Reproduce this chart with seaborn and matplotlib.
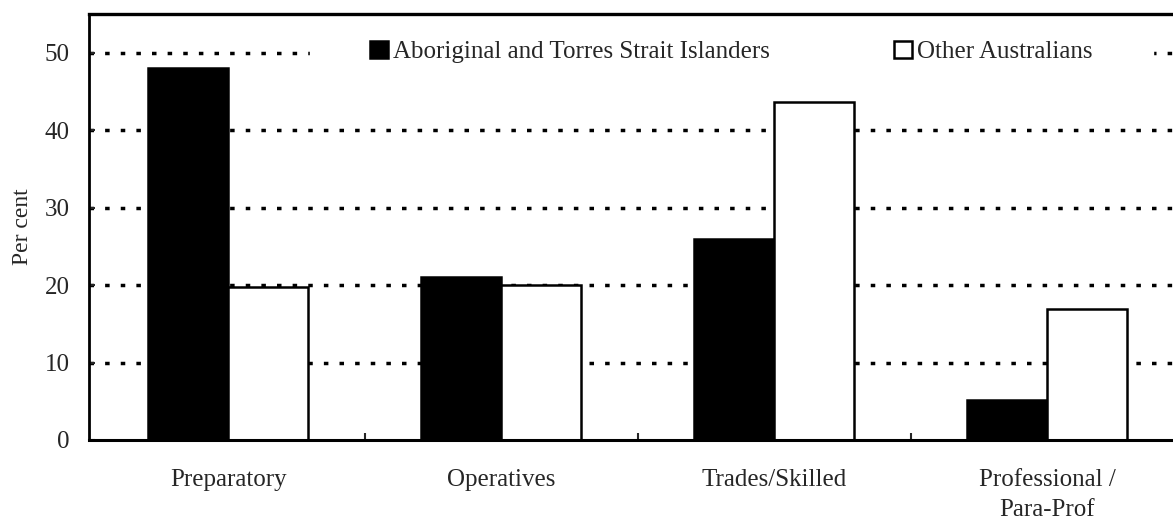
import pandas as pd
import seaborn as sns
import matplotlib.pyplot as plt


categories = ["Preparatory", "Operatives", "Trades/Skilled", "Professional /\nPara-Prof"]
groups = ["Aboriginal and Torres Strait Islanders", "Other Australians"]
aboriginal = [48.0, 21.0, 26.0, 5.2]
other = [19.7, 20.0, 43.7, 16.9]
yticks = [0, 10, 20, 30, 40, 50]

df = pd.DataFrame({
    "category": categories * 2,
    "group": [groups[0]] * 4 + [groups[1]] * 4,
    "value": aboriginal + other,
})

sns.set_style("white")
plt.rcParams["font.family"] = ["Liberation Serif", "DejaVu Serif"]

fig = plt.figure(figsize=(11.73, 5.22), dpi=100)
# axes runs past the right edge of the figure like the scanned original
ax = fig.add_axes([89 / 1173, 82 / 522, 1122 / 1173, 426 / 522])

sns.barplot(data=df, x="category", y="value", hue="group", hue_order=groups,
            palette=["black", "white"], width=0.585, edgecolor="black",
            linewidth=1.8, saturation=1, ax=ax, zorder=3)

ax.set_xlim(-0.51, 3.6)
ax.set_ylim(0, 55)
ax.set_yticks(yticks)
ax.yaxis.grid(True, color="black", linestyle=(0, (1.3, 3.2)), linewidth=2.5)
ax.set_axisbelow(True)
# no dotted line along the baseline
ax.yaxis.get_gridlines()[0].set_visible(False)

for side, lw in [("left", 2), ("top", 2.4), ("bottom", 2.2)]:
    ax.spines[side].set_visible(True)
    ax.spines[side].set_color("black")
    ax.spines[side].set_linewidth(lw)
    ax.spines[side].set_zorder(6)
ax.spines["right"].set_visible(False)

ax.set_xticks([0.5, 1.5, 2.5], minor=True)
ax.tick_params(axis="x", which="minor", direction="in", length=5, width=1.5, bottom=True)
ax.tick_params(axis="x", which="major", length=0, pad=21, labelsize=18)
ax.tick_params(axis="y", length=4, width=1.5, direction="in", left=True, labelsize=18, pad=14)
for lab in ax.get_xticklabels():
    lab.set_linespacing(1.45)
    lab.set_verticalalignment("top")

ax.set_xlabel("")
ax.set_ylabel("Per cent", fontsize=17, labelpad=8)

leg = ax.legend(loc="center left", bbox_to_anchor=(0.1854, 0.911), ncol=2, frameon=True,
                fontsize=18, handlelength=0.72, handleheight=0.72, handletextpad=0.2,
                columnspacing=5.0, borderpad=2.4, fancybox=False)
leg.get_frame().set_facecolor("white")
leg.get_frame().set_edgecolor("white")
leg.get_frame().set_alpha(1)
# the white legend box only hides the gridline, bars stay on top
leg.set_zorder(2.5)

fig.savefig("out.png", dpi=100)
